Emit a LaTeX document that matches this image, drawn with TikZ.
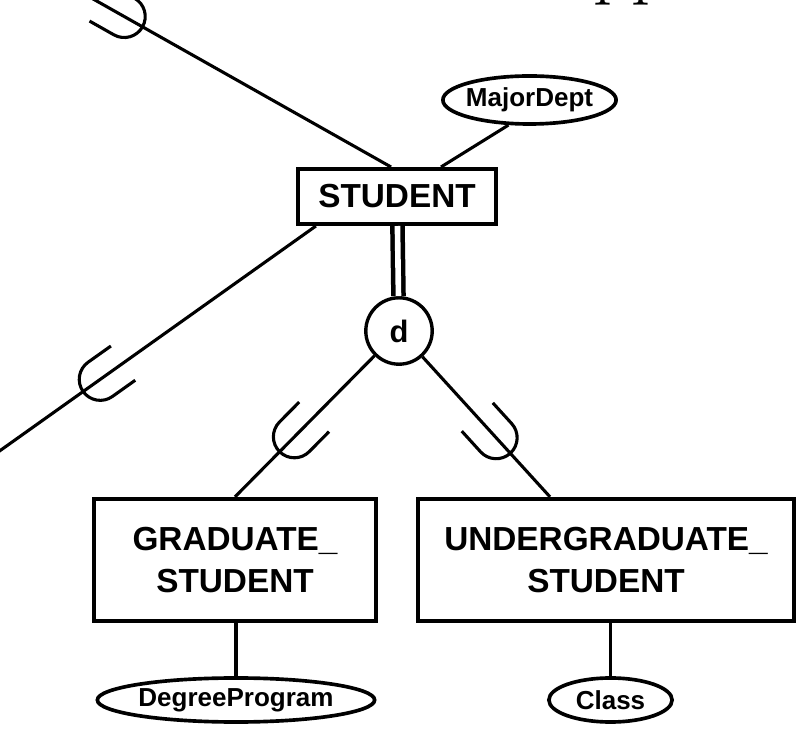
\documentclass[tikz,border=0pt]{standalone}
\usepackage{fontspec}
\newfontfamily\erfont{Liberation Sans}
\usetikzlibrary{shapes.geometric, decorations.markings}

\begin{document}
\begin{tikzpicture}[x=0.025cm, y=0.025cm,
    entity/.style={draw, line width=3pt, rectangle, inner sep=0pt,
      font=\erfont\bfseries\fontsize{23.7}{29.8}\selectfont, align=center},
    attr/.style={draw, ellipse, line width=2.6pt, inner sep=0pt},
    attrtext/.style={font=\erfont\bfseries\fontsize{18.5}{22}\selectfont},
    conn/.style={line width=2.2pt},
    isa/.style={postaction={decorate}, decoration={markings,
        mark=at position #1 with {\draw[line width=2.2pt]
          (-49,21) -- (-21,21) arc[start angle=90, end angle=-90, radius=0.525cm] -- (-49,-21);}}}]
  \useasboundingbox (0,0) rectangle (810,731);
  \clip (0,0) rectangle (810,731);

  % cut-off heading above the figure
  \node[anchor=base west, inner sep=0pt, font=\fontsize{53.6}{60}\selectfont]
    (heading) at (593,740) {pp};

  % Entity nodes
  \node[entity, minimum width=4.95cm, minimum height=1.37cm]
    (student) at (397,534.5) {STUDENT};
  \node[entity, minimum width=7.05cm, minimum height=3.05cm]
    (grad) at (235,171) {GRADUATE\_\\STUDENT};
  \node[entity, minimum width=9.4cm, minimum height=3.05cm]
    (ugrad) at (606,171) {UNDERGRADUATE\_\\STUDENT};

  % Disjointness circle
  \node[draw, circle, line width=2.4pt, minimum size=1.66cm, inner sep=0pt,
        font=\erfont\bfseries\fontsize{22}{24}\selectfont]
    (d) at (399,400) {d};

  % Attributes
  \node[attr, minimum width=4.33cm, minimum height=1.2cm,
        label={[attrtext]center:MajorDept}] (major) at (529.5,631) {};
  \node[attr, minimum width=6.93cm, minimum height=1.1cm,
        label={[attrtext]center:DegreeProgram}] (degree) at (236,31) {};
  \node[attr, minimum width=3.08cm, minimum height=1.1cm,
        label={[attrtext]center:Class}] (class) at (610.5,31) {};

  % superclass / subclass outside the frame
  \coordinate (upper) at (24,771);
  \coordinate (lower) at (-30,259);

  % STUDENT links
  \draw[conn, isa=0.323] (upper) -- ([xshift=-0.15cm]student.north);
  \draw[conn, isa=0.673] (student.200) -- (lower);
  \draw[conn] ([xshift=1.1cm]student.north) -- (major.230);

  % specialization
  \draw[line width=3.2pt, double, double distance=4pt] (student) -- (d);
  \draw[conn, isa=0.68] (d) -- (grad.north);
  \draw[conn, isa=0.69] (d) -- ([xshift=-1.4cm]ugrad.north);

  % attribute links
  \draw[conn] (grad.south -| degree.north) -- (degree.north);
  \draw[conn] (ugrad.south -| class.north) -- (class.north);
\end{tikzpicture}
\end{document}
